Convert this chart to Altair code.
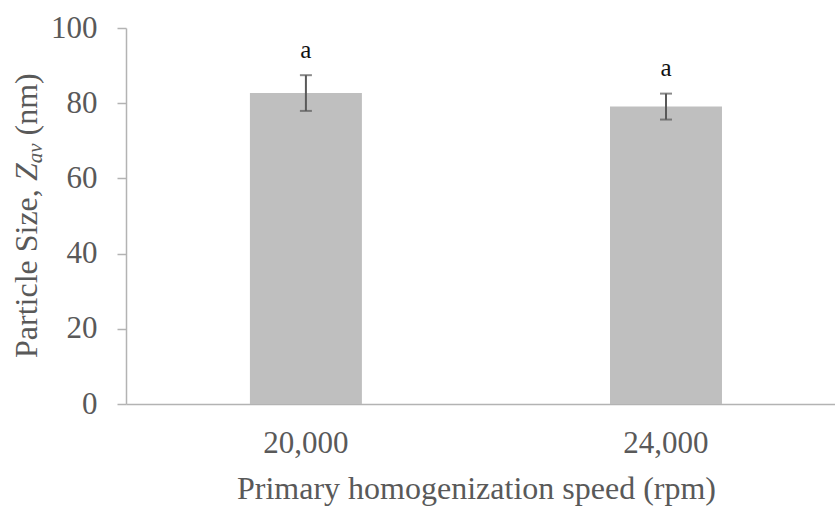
import altair as alt
import pandas as pd

# ---- data ----
speeds = ["20,000", "24,000"]          # primary homogenization speed (rpm)
means = [82.7, 79.1]                   # particle size Z_av (nm)
errors = [4.75, 3.45]                  # +/- error
letters = ["a", "a"]                   # significance letters
y_ticks = [0, 20, 40, 60, 80, 100]

df = pd.DataFrame({"speed": speeds, "mean": means, "err": errors, "letter": letters})

FONT = "Liberation Serif"
TXT = "#595959"
AXIS = "#B3B3B3"

x_enc = alt.X(
    "speed:N",
    sort=speeds,
    scale=alt.Scale(paddingInner=0.689, paddingOuter=0.329, align=0.523),
    axis=alt.Axis(
        title="Primary homogenization speed (rpm)",
        labelAngle=0,
        ticks=False,
        tickSize=0,
        labelPadding=48,
        labelBaseline="alphabetic",
        labelFontSize=31,
        labelColor=TXT,
        domainColor=AXIS,
        domainWidth=1.5,
        titleFontSize=32,
        titleColor=TXT,
        titleFontWeight="normal",
        titleBaseline="alphabetic",
        titleX=350,
        titleY=94,
    ),
)
y_scale = alt.Scale(domain=[0, 100], nice=False)

base = alt.Chart(df).transform_calculate(
    lo="datum.mean - datum.err", hi="datum.mean + datum.err"
)

bars = base.mark_bar(color="#BFBFBF").encode(
    x=x_enc,
    y=alt.Y(
        "mean:Q",
        scale=y_scale,
        axis=alt.Axis(
            title=None,
            values=y_ticks,
            grid=False,
            tickSize=9,
            tickColor=AXIS,
            tickWidth=1.5,
            domainColor=AXIS,
            domainWidth=1.5,
            labelPadding=20,
            labelFontSize=31,
            labelColor=TXT,
        ),
    ),
)

err_line = base.mark_rule(color="#595959", strokeWidth=2).encode(
    x=alt.X("speed:N", sort=speeds),
    y=alt.Y("lo:Q", scale=y_scale),
    y2="hi:Q",
)
cap_hi = base.mark_tick(color="#595959", thickness=2, size=12, orient="horizontal").encode(
    x=alt.X("speed:N", sort=speeds), y=alt.Y("hi:Q", scale=y_scale)
)
cap_lo = base.mark_tick(color="#595959", thickness=2, size=12, orient="horizontal").encode(
    x=alt.X("speed:N", sort=speeds), y=alt.Y("lo:Q", scale=y_scale)
)
labels = base.mark_text(
    font=FONT, fontSize=25, color="#111111", baseline="alphabetic", dy=-17.5
).encode(
    x=alt.X("speed:N", sort=speeds),
    y=alt.Y("hi:Q", scale=y_scale),
    text="letter:N",
)

# ---- y-axis title with italic Z and subscript "av" ----
def seg(text, y, x, size, style="normal"):
    return alt.Chart(pd.DataFrame({"t": [text]})).mark_text(
        font=FONT, fontSize=size, fontStyle=style, color=TXT,
        angle=270, align="left", baseline="alphabetic",
    ).encode(text="t:N", x=alt.value(x), y=alt.value(y))

t1 = seg("Particle Size,", 330, -89, 32)
t2 = seg("Z", 153.1, -89, 32, "italic")
t3 = seg("av", 135.3, -84, 21, "italic")
t4 = seg("(nm)", 107.5, -89, 32)

chart = alt.layer(bars, err_line, cap_hi, cap_lo, labels, t1, t2, t3, t4).properties(
    width=709,
    height=376,
    autosize="none",
    padding={"left": 126, "top": 28, "right": 0, "bottom": 104},
    background="white",
).configure_view(stroke=None).configure_axis(
    labelFont=FONT, titleFont=FONT
)

chart.save("out.html", embed_options={"renderer": "svg", "actions": False})
